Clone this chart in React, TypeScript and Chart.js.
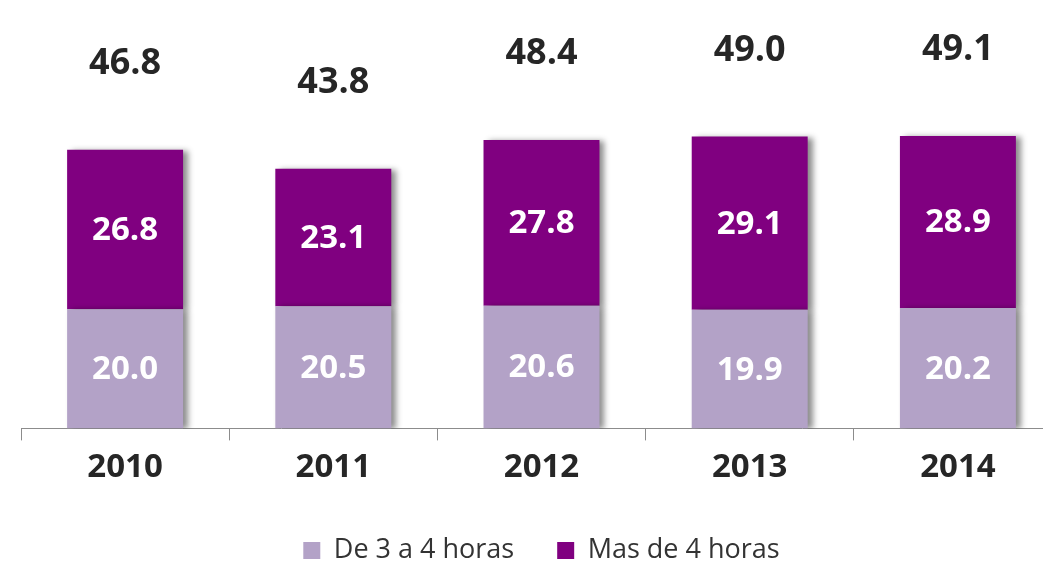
import React, { useEffect, useRef } from "react";
import { Chart, registerables } from "chart.js";

Chart.register(...registerables);

const years = ["2010", "2011", "2012", "2013", "2014"];
const deTresACuatro = [20.0, 20.5, 20.6, 19.9, 20.2];
const masDeCuatro = [26.8, 23.1, 27.8, 29.1, 28.9];
const totals = [46.8, 43.8, 48.4, 49.0, 49.1];

const LIGHT = "#B3A2C7";
const DARK = "#800080";
const FONT = "'Open Sans', 'Liberation Sans', sans-serif";

const labelsPlugin = {
  id: "barLabels",
  beforeDatasetsDraw(chart: any) {
    const ctx = chart.ctx;
    ctx.save();
    ctx.shadowColor = "rgba(0,0,0,0.45)";
    ctx.shadowBlur = 6;
    ctx.shadowOffsetX = 5;
    ctx.shadowOffsetY = 1;
  },
  afterDatasetsDraw(chart: any) {
    const ctx = chart.ctx;
    ctx.restore();
    ctx.save();
    ctx.textAlign = "center";
    ctx.textBaseline = "middle";
    ctx.font = `bold 33px ${FONT}`;
    ctx.fillStyle = "#ffffff";
    chart.data.datasets.forEach((ds: any, di: number) => {
      const meta = chart.getDatasetMeta(di);
      meta.data.forEach((bar: any, i: number) => {
        const p = bar.getProps(["x", "y", "base"], true);
        ctx.fillText(Number(ds.data[i]).toFixed(1), p.x, (p.y + p.base) / 2 + 1);
      });
    });
    const topMeta = chart.getDatasetMeta(chart.data.datasets.length - 1);
    ctx.font = `bold 36px ${FONT}`;
    ctx.fillStyle = "#262626";
    topMeta.data.forEach((bar: any, i: number) => {
      const p = bar.getProps(["x", "y"], true);
      ctx.fillText(totals[i].toFixed(1), p.x, p.y - 86);
    });
    ctx.restore();
  },
};

export default function App() {
  const ref = useRef<HTMLCanvasElement | null>(null);
  useEffect(() => {
    if (!ref.current) return;
    const chart = new Chart(ref.current, {
      type: "bar",
      data: {
        labels: years,
        datasets: [
          {
            label: "De 3 a 4 horas",
            data: deTresACuatro,
            backgroundColor: LIGHT,
            borderWidth: 0,
          },
          {
            label: "Mas de 4 horas",
            data: masDeCuatro,
            backgroundColor: DARK,
            borderWidth: 0,
          },
        ],
      },
      options: {
        responsive: false,
        animation: false,
        devicePixelRatio: 1,
        layout: { padding: { top: 71, left: 21, right: 18, bottom: 0 } },
        datasets: { bar: { barPercentage: 1, categoryPercentage: 0.557 } },
        scales: {
          x: {
            stacked: true,
            grid: {
              display: true,
              offset: true,
              drawOnChartArea: false,
              drawTicks: true,
              tickLength: 12,
              color: "#8c8c8c",
              lineWidth: 1,
            },
            border: { display: true, color: "#8c8c8c", width: 1 },
            ticks: {
              color: "#262626",
              font: { family: FONT, size: 33, weight: "bold" },
              padding: 7,
            },
          },
          y: {
            stacked: true,
            display: false,
            min: 0,
            max: 60,
          },
        },
        plugins: {
          tooltip: { enabled: false },
          legend: {
            position: "bottom",
            labels: {
              boxWidth: 17,
              boxHeight: 17,
              padding: 43,
              color: "#333333",
              font: { family: FONT, size: 27 },
            },
          },
        },
      },
      plugins: [labelsPlugin],
    });
    return () => chart.destroy();
  }, []);
  return (
    <div
      style={{
        position: "absolute",
        left: 0,
        top: 0,
        width: 1043,
        height: 569,
        overflow: "hidden",
        background: "#ffffff",
      }}
    >
      <canvas ref={ref} width={1080} height={574} style={{ display: "block" }} />
    </div>
  );
}
